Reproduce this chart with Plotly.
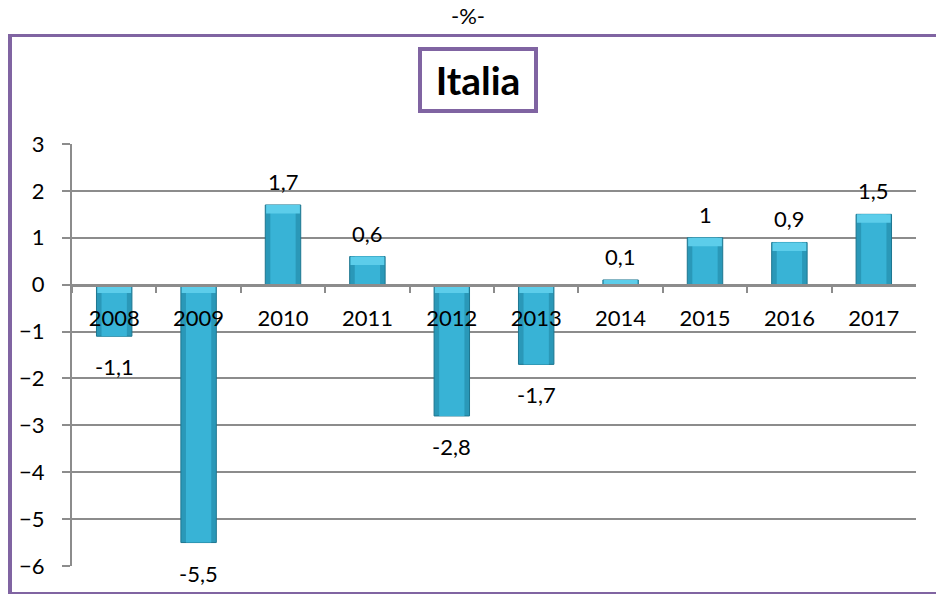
import plotly.graph_objects as go

# Annual GDP change for Italy, percent
years = ["2008", "2009", "2010", "2011", "2012", "2013", "2014", "2015", "2016", "2017"]
growth = [-1.1, -5.5, 1.7, 0.6, -2.8, -1.7, 0.1, 1.0, 0.9, 1.5]
y_ticks = [-6, -5, -4, -3, -2, -1, 0, 1, 2, 3]

W, H = 936, 594
FONT = "Lato"
FS = 22
PURPLE = "#8064A2"
GRID = "#8C8C8C"

x_dom = [72 / W, 916 / W]
y_dom = [1 - 566 / H, 1 - 144 / H]
y_rng = [-6, 3]
zero_pos = y_dom[0] + (0 - y_rng[0]) / (y_rng[1] - y_rng[0]) * (y_dom[1] - y_dom[0])


def fmt(v):
    s = f"{v:g}"
    return s.replace(".", ",")


# light bevel at the upper end of every bar
cap_h = [min(abs(v), 0.18) for v in growth]
cap_base = [v - c if v >= 0 else -c for v, c in zip(growth, cap_h)]

fig = go.Figure()

# base bar with darker edges
fig.add_trace(go.Bar(
    x=years, y=growth, width=0.42,
    marker=dict(color="#2A98B8", line=dict(color="#1D7690", width=1)),
    hoverinfo="skip", showlegend=False,
))
# lighter core of each bar
fig.add_trace(go.Bar(
    x=years, y=growth, width=0.30,
    marker=dict(color="#38B3D6", line=dict(width=0)),
    hoverinfo="skip", showlegend=False,
))
# bevel cap
fig.add_trace(go.Bar(
    x=years, y=cap_h, base=cap_base, width=0.40,
    marker=dict(color="#5CCDEA", line=dict(width=0)),
    hoverinfo="skip", showlegend=False,
))

annotations = []
for i, v in enumerate(growth):
    annotations.append(dict(
        x=i, y=v, xref="x", yref="y", text=fmt(v), showarrow=False,
        yanchor="bottom" if v >= 0 else "top",
        yshift=8 if v >= 0 else -15,
        font=dict(family=FONT, size=FS, color="#000000"),
    ))

# unit note above the frame
annotations.append(dict(
    x=0.5, y=1 - 15 / H, xref="paper", yref="paper", text="-%-",
    showarrow=False, xanchor="center", yanchor="middle",
    font=dict(family=FONT, size=FS, color="#000000"),
))
# boxed title
annotations.append(dict(
    x=478 / W, y=1 - 80 / H, xref="paper", yref="paper", text="<b>Italia</b>",
    showarrow=False, xanchor="center", yanchor="middle",
    width=108, height=54, borderpad=2,
    bordercolor=PURPLE, borderwidth=4, bgcolor="white",
    font=dict(family=FONT, size=39, color="#000000"),
))

shapes = [
    # outer frame: left, top, bottom
    dict(type="line", xref="paper", yref="paper", x0=10 / W, x1=10 / W,
         y0=1 - 593 / H, y1=1 - 35.5 / H, line=dict(color=PURPLE, width=4)),
    dict(type="line", xref="paper", yref="paper", x0=8 / W, x1=1.01,
         y0=1 - 35.5 / H, y1=1 - 35.5 / H, line=dict(color=PURPLE, width=3)),
    dict(type="line", xref="paper", yref="paper", x0=8 / W, x1=1.01,
         y0=1 - 593 / H, y1=1 - 593 / H, line=dict(color=PURPLE, width=2)),
]

fig.update_layout(
    width=W, height=H,
    margin=dict(l=0, r=0, t=0, b=0),
    paper_bgcolor="white", plot_bgcolor="white",
    barmode="overlay",
    showlegend=False,
    annotations=annotations,
    shapes=shapes,
    font=dict(family=FONT, size=FS, color="#000000"),
    xaxis=dict(
        type="category", domain=x_dom, anchor="free", position=zero_pos,
        range=[-0.5, len(years) - 0.5], automargin=False,
        showline=True, linecolor=GRID, linewidth=2.5,
        ticks="outside", tickson="boundaries", ticklen=7, tickcolor=GRID, tickwidth=2,
        showgrid=False, zeroline=False, tickangle=0,
        tickfont=dict(family=FONT, size=FS, color="#000000"),
        ticklabelstandoff=13,
        layer="above traces",
    ),
    yaxis=dict(
        domain=y_dom, range=y_rng, tickvals=y_ticks, automargin=False,
        showline=True, linecolor=GRID, linewidth=2,
        ticks="outside", ticklen=8, tickcolor=GRID, tickwidth=2,
        showgrid=True, gridcolor=GRID, gridwidth=1.5,
        zeroline=False,
        tickfont=dict(family=FONT, size=FS, color="#000000"),
        ticklabelstandoff=13,
    ),
)

fig.write_html("out.html")
